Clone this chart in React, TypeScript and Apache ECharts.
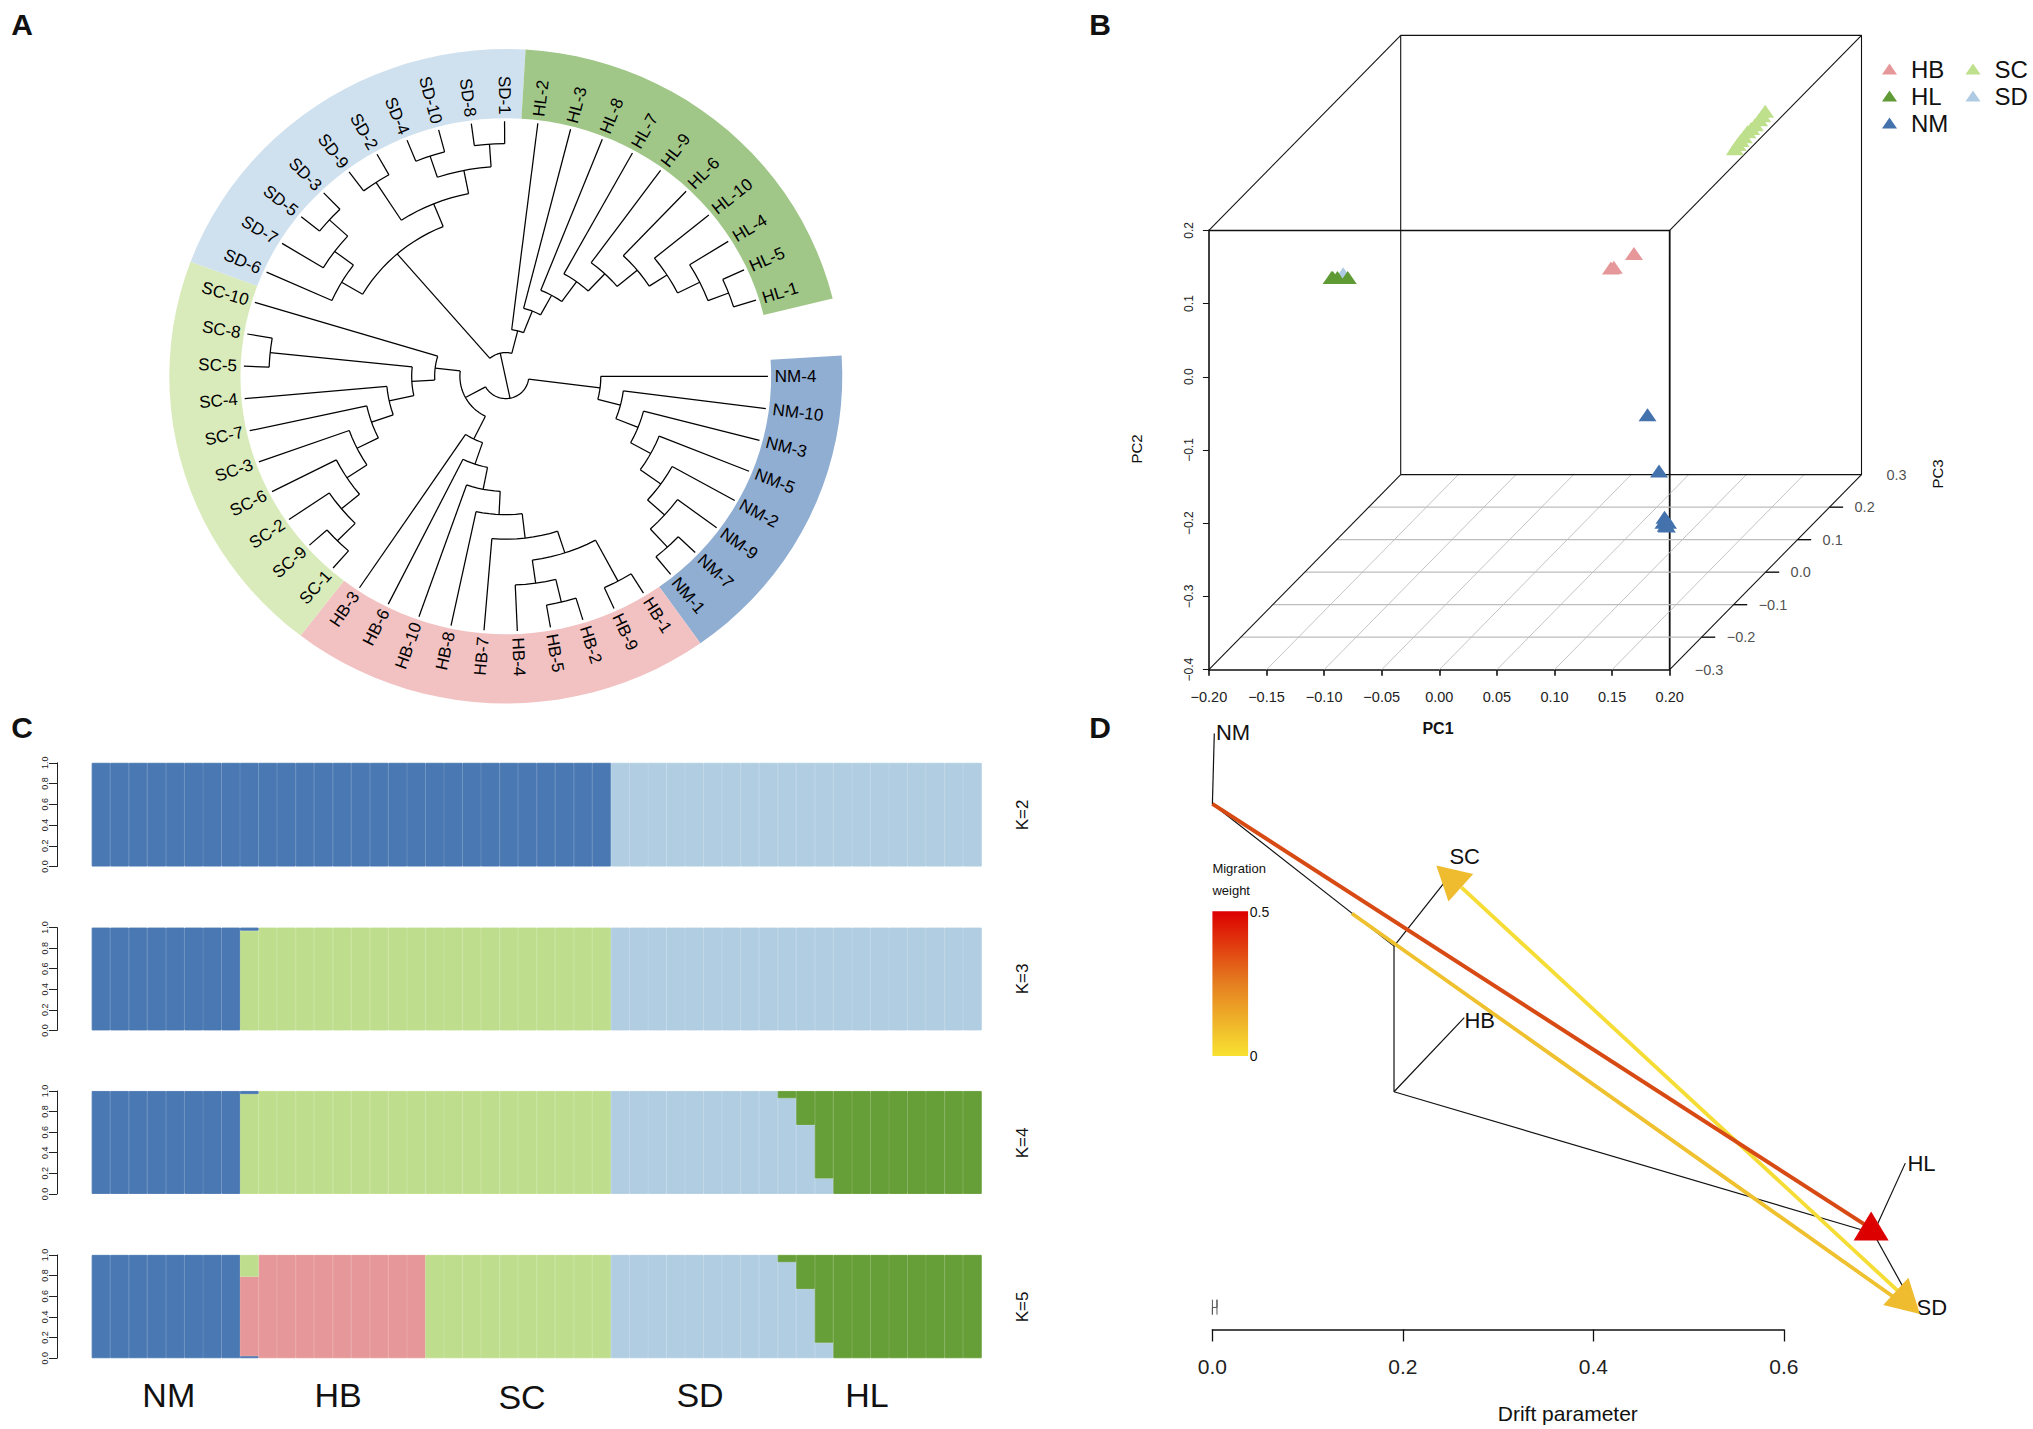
import React, { useEffect, useRef } from "react";
import * as echarts from "echarts";

const FONT = "'Liberation Sans', Arial, sans-serif";

// ---------- Panel A: circular dendrogram ----------
type Clade = string | [number, Clade, Clade];
const ringCounts = [8, 10, 10, 10, 10];
const ringColors = ["#90ADD2", "#F2C1C2", "#DAEBBB", "#CFE0EE", "#A1C788"];
const leafOrder = [
  "NM-4", "NM-10", "NM-3", "NM-5", "NM-2", "NM-9", "NM-7", "NM-1",
  "HB-1", "HB-9", "HB-2", "HB-5", "HB-4", "HB-7", "HB-8", "HB-10", "HB-6", "HB-3",
  "SC-1", "SC-9", "SC-2", "SC-6", "SC-3", "SC-7", "SC-4", "SC-5", "SC-8", "SC-10",
  "SD-6", "SD-7", "SD-5", "SD-3", "SD-9", "SD-2", "SD-4", "SD-10", "SD-8", "SD-1",
  "HL-2", "HL-3", "HL-8", "HL-7", "HL-9", "HL-6", "HL-10", "HL-4", "HL-5", "HL-1",
];
const nmTree: Clade = [207, "NM-4", [258, "NM-10", [310, "NM-3", [360, "NM-5", [415, "NM-2", [465, "NM-9", [520, "NM-7", "NM-1"]]]]]]];
const hbTree: Clade = [157, "HB-3", [208, "HB-6", [258, "HB-10", [310, "HB-8", [365, "HB-7", [416, [468, "HB-4", [520, "HB-5", "HB-2"]], [520, "HB-9", "HB-1"]]]]]]];
const scTree: Clade = [155, "SC-10", [205, [516, "SC-8", "SC-5"], [260, "SC-4", [310, "SC-7", [362, "SC-3", [414, "SC-6", [465, "SC-2", [520, "SC-9", "SC-1"]]]]]]]];
const sdTree: Clade = [362, [415, "SD-6", [466, "SD-7", [520, "SD-5", "SD-3"]]], [417, [518, "SD-9", "SD-2"], [470, [520, "SD-4", "SD-10"], [521, "SD-8", "SD-1"]]]];
const hlTree: Clade = [105, "HL-2", [157, "HL-3", [207, "HL-8", [262, "HL-7", [315, "HL-9", [372, "HL-6", [418, "HL-10", [472, "HL-4", [520, "HL-5", "HL-1"]]]]]]]]];
const northClade: Clade = [53, hlTree, sdTree];
const southClade: Clade = [100, scTree, hbTree];
const rootClade: Clade = [50, nmTree, southClade];

// ---------- Panel B: PCA ----------
const pcaHB = [[0.0935, 0.0598, -0.1], [0.096, 0.061, -0.1], [0.1135, 0.0798, -0.1]];
const pcaHL = [[-0.098, 0.127, -0.28], [-0.094, 0.127, -0.28], [-0.085, 0.127, -0.28], [-0.099, 0.127, -0.28]];
const pcaNM = [[0.153, -0.096, -0.2], [0.163, -0.173, -0.2], [0.1678, -0.236, -0.2], [0.1688, -0.24, -0.2], [0.1668, -0.243, -0.2], [0.1708, -0.243, -0.2], [0.1698, -0.248, -0.2], [0.1688, -0.247, -0.2]];
const pcaSC = [[0.12, 0.093, 0.192], [0.12, 0.095, 0.201], [0.12, 0.0965, 0.21], [0.12, 0.097, 0.22], [0.12, 0.0988, 0.2315], [0.12, 0.098, 0.243], [0.12, 0.0978, 0.255], [0.12, 0.099, 0.268], [0.12, 0.1001, 0.278], [0.12, 0.1023, 0.287]];
const pcaSD = [[-0.089, 0.132, -0.28]];
const pc1Ticks = [-0.15, -0.1, -0.05, 0, 0.05, 0.1, 0.15];
const pc3Ticks = [-0.2, -0.1, 0, 0.1, 0.2];
const pc3Labels = [-0.3, -0.2, -0.1, 0, 0.1, 0.2, 0.3];

// ---------- Panel C: admixture ----------
const k2Blue = [1, 1, 1, 1, 1, 1, 1, 1, 1, 1, 1, 1, 1, 1, 1, 1, 1, 1, 1, 1, 1, 1, 1, 1, 1, 1, 1, 1, 0, 0, 0, 0, 0, 0, 0, 0, 0, 0, 0, 0, 0, 0, 0, 0, 0, 0, 0, 0];
const k2Sky = [0, 0, 0, 0, 0, 0, 0, 0, 0, 0, 0, 0, 0, 0, 0, 0, 0, 0, 0, 0, 0, 0, 0, 0, 0, 0, 0, 0, 1, 1, 1, 1, 1, 1, 1, 1, 1, 1, 1, 1, 1, 1, 1, 1, 1, 1, 1, 1];
const k3Lime = [0, 0, 0, 0, 0, 0, 0, 0, 0.97, 1, 1, 1, 1, 1, 1, 1, 1, 1, 1, 1, 1, 1, 1, 1, 1, 1, 1, 1, 0, 0, 0, 0, 0, 0, 0, 0, 0, 0, 0, 0, 0, 0, 0, 0, 0, 0, 0, 0];
const k3Blue = [1, 1, 1, 1, 1, 1, 1, 1, 0.03, 0, 0, 0, 0, 0, 0, 0, 0, 0, 0, 0, 0, 0, 0, 0, 0, 0, 0, 0, 0, 0, 0, 0, 0, 0, 0, 0, 0, 0, 0, 0, 0, 0, 0, 0, 0, 0, 0, 0];
const k3Sky = [0, 0, 0, 0, 0, 0, 0, 0, 0, 0, 0, 0, 0, 0, 0, 0, 0, 0, 0, 0, 0, 0, 0, 0, 0, 0, 0, 0, 1, 1, 1, 1, 1, 1, 1, 1, 1, 1, 1, 1, 1, 1, 1, 1, 1, 1, 1, 1];
const k4Lime = [0, 0, 0, 0, 0, 0, 0, 0, 0.97, 1, 1, 1, 1, 1, 1, 1, 1, 1, 1, 1, 1, 1, 1, 1, 1, 1, 1, 1, 0, 0, 0, 0, 0, 0, 0, 0, 0, 0, 0, 0, 0, 0, 0, 0, 0, 0, 0, 0];
const k4Blue = [1, 1, 1, 1, 1, 1, 1, 1, 0.03, 0, 0, 0, 0, 0, 0, 0, 0, 0, 0, 0, 0, 0, 0, 0, 0, 0, 0, 0, 0, 0, 0, 0, 0, 0, 0, 0, 0, 0, 0, 0, 0, 0, 0, 0, 0, 0, 0, 0];
const k4Sky = [0, 0, 0, 0, 0, 0, 0, 0, 0, 0, 0, 0, 0, 0, 0, 0, 0, 0, 0, 0, 0, 0, 0, 0, 0, 0, 0, 0, 1, 1, 1, 1, 1, 1, 1, 1, 1, 0.93, 0.67, 0.15, 0, 0, 0, 0, 0, 0, 0, 0];
const k4Green = [0, 0, 0, 0, 0, 0, 0, 0, 0, 0, 0, 0, 0, 0, 0, 0, 0, 0, 0, 0, 0, 0, 0, 0, 0, 0, 0, 0, 0, 0, 0, 0, 0, 0, 0, 0, 0, 0.07, 0.33, 0.85, 1, 1, 1, 1, 1, 1, 1, 1];
const k5Blue = [1, 1, 1, 1, 1, 1, 1, 1, 0.02, 0, 0, 0, 0, 0, 0, 0, 0, 0, 0, 0, 0, 0, 0, 0, 0, 0, 0, 0, 0, 0, 0, 0, 0, 0, 0, 0, 0, 0, 0, 0, 0, 0, 0, 0, 0, 0, 0, 0];
const k5Pink = [0, 0, 0, 0, 0, 0, 0, 0, 0.77, 1, 1, 1, 1, 1, 1, 1, 1, 1, 0, 0, 0, 0, 0, 0, 0, 0, 0, 0, 0, 0, 0, 0, 0, 0, 0, 0, 0, 0, 0, 0, 0, 0, 0, 0, 0, 0, 0, 0];
const k5Lime = [0, 0, 0, 0, 0, 0, 0, 0, 0.21, 0, 0, 0, 0, 0, 0, 0, 0, 0, 1, 1, 1, 1, 1, 1, 1, 1, 1, 1, 0, 0, 0, 0, 0, 0, 0, 0, 0, 0, 0, 0, 0, 0, 0, 0, 0, 0, 0, 0];
const k5Sky = [0, 0, 0, 0, 0, 0, 0, 0, 0, 0, 0, 0, 0, 0, 0, 0, 0, 0, 0, 0, 0, 0, 0, 0, 0, 0, 0, 0, 1, 1, 1, 1, 1, 1, 1, 1, 1, 0.93, 0.67, 0.15, 0, 0, 0, 0, 0, 0, 0, 0];
const k5Green = [0, 0, 0, 0, 0, 0, 0, 0, 0, 0, 0, 0, 0, 0, 0, 0, 0, 0, 0, 0, 0, 0, 0, 0, 0, 0, 0, 0, 0, 0, 0, 0, 0, 0, 0, 0, 0, 0.07, 0.33, 0.85, 1, 1, 1, 1, 1, 1, 1, 1];
const popLabels = ["NM", "HB", "SC", "SD", "HL"];
const kLabels = ["K=2", "K=3", "K=4", "K=5"];

// ---------- Panel D: TreeMix ----------
const driftNodes: Record<string, number[]> = {
  NM: [0.002, 1.0], n0: [0, 0.882], n1: [0.1907, 0.6434], SC: [0.2433, 0.7496], n2: [0.1907, 0.399],
  HB: [0.2645, 0.5235], n3: [0.694, 0.1616], HL: [0.7276, 0.2792], SD: [0.74, 0.0288],
};
const driftEdges = [["n0", "NM"], ["n0", "n1"], ["n1", "SC"], ["n1", "n2"], ["n2", "HB"], ["n2", "n3"], ["n3", "HL"], ["n3", "SD"]];
const migrationStrong = [[0, 0.882], [0.688, 0.173]];
const migrationToSD = [[0.1465, 0.698], [0.7246, 0.044]];
const migrationToSC = [[0.7246, 0.0577], [0.2615, 0.742]];
const scaleBar = [[0, 0.05], [0, 0.025], [0, 0.037], [0.0048, 0.037], [0.0048, 0.05], [0.0048, 0.025]];
const arrowRed = [0.6917, 0.1738];
const arrowSC = [0.248, 0.76];
const arrowSD = [0.7303, 0.0451];

const C = { blue: "#4A78B2", sky: "#B1CDE2", lime: "#BFDE8D", green: "#669E38", pink: "#E59799" };

const STEP = 7.29;
const LEAF_R = 571;
const leafAngle: Record<string, number> = {};
leafOrder.forEach((n, k) => { leafAngle[n] = -STEP * k; });

type Poly = [number, number][]; // [radius, angle]
function arcPts(r: number, a1: number, a2: number): Poly {
  const lo = Math.min(a1, a2), hi = Math.max(a1, a2);
  const n = Math.max(1, Math.ceil((hi - lo) / 3));
  const out: Poly = [];
  for (let i = 0; i <= n; i++) out.push([r, lo + ((hi - lo) * i) / n]);
  return out;
}
const polys: Poly[] = [];
function layout(c: Clade): { a: number; r: number } {
  if (typeof c === "string") return { a: leafAngle[c], r: LEAF_R };
  const [r, l, m] = c;
  const A = layout(l), B = layout(m);
  polys.push(arcPts(r, A.a, B.a));
  polys.push([[r, A.a], [A.r, A.a]]);
  polys.push([[r, B.a], [B.r, B.a]]);
  return { a: (A.a + B.a) / 2, r };
}
const northPos = layout(northClade);
const rootPos = layout(rootClade);
polys.push([[rootPos.r, rootPos.a], [northPos.r, northPos.a]]);

function renderDendro(_: any, api: any) {
  const P = (r: number, a: number) => {
    const t = (a * Math.PI) / 180;
    return api.coord([r * Math.cos(t), r * Math.sin(t)]);
  };
  const children: any[] = [];
  let k0 = 0;
  ringCounts.forEach((n, i) => {
    const a1 = -STEP * (k0 - 0.5), a2 = -STEP * (k0 + n - 0.5);
    const outer = arcPts(733, a1, a2);
    const inner = arcPts(578, a1, a2).reverse();
    children.push({
      type: "polygon",
      shape: { points: outer.concat(inner).map(([r, a]) => P(r, a)) },
      style: { fill: ringColors[i], stroke: null },
    });
    k0 += n;
  });
  polys.forEach((p) => {
    children.push({
      type: "polyline",
      shape: { points: p.map(([r, a]) => P(r, a)) },
      style: { stroke: "#000", lineWidth: 1.25, fill: null },
    });
  });
  leafOrder.forEach((name) => {
    const a = leafAngle[name];
    const p0 = P(586, a), p1 = P(686, a);
    const ang = Math.atan2(-(p1[1] - p0[1]), p1[0] - p0[0]);
    const right = Math.cos((a * Math.PI) / 180) >= 0;
    children.push({
      type: "text",
      x: p0[0],
      y: p0[1],
      rotation: right ? ang : ang + Math.PI,
      style: {
        text: name, fill: "#000", fontSize: 17, fontFamily: FONT,
        textAlign: right ? "left" : "right", textVerticalAlign: "middle",
        align: right ? "left" : "right", verticalAlign: "middle",
      },
    });
  });
  return { type: "group", children };
}

const minus = (s: string) => s.replace("-", "\u2212");
const KX = 0.2775, KY = 0.444;
const project = (p: number[]) => [p[0] + (p[2] + 0.3) * KX, p[1] + (p[2] + 0.3) * KY];

function txt(text: string, x: number, y: number, size: number, extra: any = {}) {
  const { rotation, align = "center", weight = "normal", fill = "#111" } = extra;
  return {
    type: "text", x, y, rotation: rotation || 0, silent: true,
    style: {
      text, fill, font: `${weight} ${size}px ${FONT}`,
      textAlign: align, textVerticalAlign: "middle", align, verticalAlign: "middle",
    },
  };
}

export default function App() {
  const ref = useRef<HTMLDivElement>(null);
  useEffect(() => {
    document.body.style.margin = "0";
    const chart = echarts.init(ref.current!, undefined, { renderer: "svg" });
    const grids: any[] = [], xAxes: any[] = [], yAxes: any[] = [], series: any[] = [];
    const addGrid = (g: any, x: any, y: any) => {
      grids.push({ ...g, containLabel: false });
      xAxes.push({ gridIndex: grids.length - 1, ...x });
      yAxes.push({ gridIndex: grids.length - 1, ...y });
      return grids.length - 1;
    };
    const off = { show: false };

    // A
    const gA = addGrid(
      { left: 169.3, top: 49, width: 673, height: 654.5 },
      { type: "value", min: -733, max: 733, ...off },
      { type: "value", min: -733, max: 733, ...off }
    );
    series.push({
      type: "custom", xAxisIndex: gA, yAxisIndex: gA, data: [[0, 0]], encode: { x: 0, y: 1 },
      renderItem: renderDendro, clip: false, silent: true,
    });

    // B front face with real PC1/PC2 axes
    const axLine = { show: true, onZero: false, lineStyle: { color: "#111", width: 1.6 } };
    const gB1 = addGrid(
      { left: 1208.9, top: 230.3, width: 460.8, height: 439.4 },
      {
        type: "value", min: -0.2, max: 0.2, interval: 0.05, splitLine: off,
        axisLine: axLine, axisTick: { show: true, length: 6, inside: false, lineStyle: { color: "#111", width: 1.6 } },
        axisLabel: { show: true, margin: 20, fontSize: 14.5, fontFamily: FONT, color: "#222", hideOverlap: false, showMinLabel: true, showMaxLabel: true,
          formatter: (v: number) => minus(v.toFixed(2)) },
      },
      {
        type: "value", min: -0.4, max: 0.2, interval: 0.1, splitLine: off,
        axisLine: axLine, axisTick: { show: true, length: 6, lineStyle: { color: "#111", width: 1 } },
        axisLabel: { show: true, rotate: 90, margin: 14, fontSize: 12, fontFamily: FONT, color: "#222", showMinLabel: true, showMaxLabel: true,
          formatter: (v: number) => minus(v.toFixed(1)) },
      }
    );
    series.push({
      type: "line", xAxisIndex: gB1, yAxisIndex: gB1, showSymbol: false, silent: true,
      data: [[-0.2, 0.2], [0.2, 0.2], [0.2, -0.4]],
      lineStyle: { color: "#111", width: 1.8 },
    });
    // B whole projected box
    const gB2 = addGrid(
      { left: 1208.9, top: 35.4, width: 652.6, height: 634.3 },
      { type: "value", min: -0.2, max: 0.2 + 0.6 * KX, ...off },
      { type: "value", min: -0.4, max: 0.2 + 0.6 * KY, ...off }
    );
    const seg = (pts: number[][], color: string, width: number) =>
      series.push({
        type: "line", xAxisIndex: gB2, yAxisIndex: gB2, showSymbol: false, silent: true, clip: false,
        data: pts.map(project), lineStyle: { color, width },
      });
    pc3Ticks.forEach((t) => {
      seg([[-0.2, -0.4, t], [0.2, -0.4, t]], "#BDBDBD", 1.2);
      seg([[0.2, -0.4, t], [0.2118, -0.4, t]], "#111", 1.4);
    });
    pc1Ticks.forEach((t) => seg([[t, -0.4, -0.3], [t, -0.4, 0.3]], "#BDBDBD", 0.9));
    seg([[-0.2, -0.4, 0.3], [0.2, -0.4, 0.3], [0.2, 0.2, 0.3], [-0.2, 0.2, 0.3], [-0.2, -0.4, 0.3]], "#111", 1.1);
    seg([[-0.2, -0.4, -0.3], [-0.2, -0.4, 0.3]], "#111", 1.1);
    seg([[0.2, -0.4, -0.3], [0.2, -0.4, 0.3]], "#111", 1.1);
    seg([[-0.2, 0.2, -0.3], [-0.2, 0.2, 0.3]], "#111", 1.1);
    seg([[0.2, 0.2, -0.3], [0.2, 0.2, 0.3]], "#111", 1.1);
    series.push({
      type: "scatter", xAxisIndex: gB2, yAxisIndex: gB2, symbolSize: 0, silent: true, clip: false,
      data: pc3Labels.map((t) => ({ value: project([0.2, -0.4, t]), name: minus(t.toFixed(1)) })),
      label: { show: true, position: "right", distance: 25, fontSize: 14.5, fontFamily: FONT, color: "#222", formatter: "{b}" },
    });
    const pcaSeries: [string, number[][], string][] = [
      ["SD", pcaSD, "#AFCBE3"], ["HL", pcaHL, "#5F9A35"], ["HB", pcaHB, "#E59799"],
      ["NM", pcaNM, "#4472AD"], ["SC", pcaSC, "#BEDF8B"],
    ];
    pcaSeries.forEach(([name, pts, color]) =>
      series.push({
        type: "scatter", name, xAxisIndex: gB2, yAxisIndex: gB2, symbol: "triangle", symbolSize: [18, 13], clip: false, z: 6,
        data: pts.map(project), itemStyle: { color, opacity: 1 },
      })
    );

    // C
    const rows: [number, number, [string, number[]][]][] = [
      [762.8, 103.7, [[C.blue, k2Blue], [C.sky, k2Sky]]],
      [927.6, 102.8, [[C.lime, k3Lime], [C.blue, k3Blue], [C.sky, k3Sky]]],
      [1091, 102.9, [[C.lime, k4Lime], [C.blue, k4Blue], [C.sky, k4Sky], [C.green, k4Green]]],
      [1254.9, 103.3, [[C.blue, k5Blue], [C.pink, k5Pink], [C.lime, k5Lime], [C.sky, k5Sky], [C.green, k5Green]]],
    ];
    const cats = k2Blue.map((_, i) => String(i + 1));
    rows.forEach(([top, height, stack], ri) => {
      const g = addGrid(
        { left: 91.7, top, width: 890, height },
        { type: "category", data: cats, ...off },
        {
          type: "value", min: 0, max: 1, interval: 0.2, offset: 34.7, splitLine: off,
          axisLine: { show: true, onZero: false, lineStyle: { color: "#222", width: 1 } },
          axisTick: { show: true, length: 8, lineStyle: { color: "#222", width: 1 } },
          axisLabel: { show: true, rotate: 90, margin: 8, fontSize: 9, fontFamily: FONT, color: "#222", formatter: (v: number) => v.toFixed(1) },
        }
      );
      stack.forEach(([color, values]) =>
        series.push({
          type: "bar", xAxisIndex: g, yAxisIndex: g, stack: "k" + ri, barCategoryGap: 0, barWidth: "100%", silent: true,
          data: values.map((v) => (v === 0 ? null : v)),
          itemStyle: { color, borderColor: color, borderWidth: 0.9 },
        })
      );
    });

    // D: visible drift axis
    const gDaxis = addGrid(
      { left: 1212.4, top: 733.6, width: 571.4, height: 595.9 },
      {
        type: "value", min: 0, max: 0.6, interval: 0.2, splitLine: off, position: "bottom",
        axisLine: { show: true, onZero: false, lineStyle: { color: "#111", width: 1.5 } },
        axisTick: { show: true, length: 12, lineStyle: { color: "#111", width: 1.3 } },
        axisLabel: { show: true, margin: 26, fontSize: 21, fontFamily: FONT, color: "#222", formatter: (v: number) => v.toFixed(1) },
      },
      { type: "value", min: 0, max: 1, ...off }
    );
    // D: same scale, extended so the tips past 0.6 stay on the plot
    const gD = addGrid(
      { left: 1212.4, top: 733.6, width: 761.87, height: 595.9 },
      { type: "value", min: 0, max: 0.8, ...off },
      { type: "value", min: 0, max: 1, ...off }
    );
    const dLine = (data: number[][], color: string, width: number) =>
      series.push({
        type: "line", xAxisIndex: gD, yAxisIndex: gD, showSymbol: false, silent: true, clip: false,
        data, lineStyle: { color, width },
      });
    driftEdges.forEach(([a, b]) => dLine([driftNodes[a], driftNodes[b]], "#111", 1.2));
    dLine(migrationToSD, "#EFC12F", 3.8);
    dLine(migrationToSC, "#F6DD35", 3.8);
    dLine(migrationStrong, "#D84A14", 4);
    dLine(scaleBar, "#555", 1);
    const arrow = (p: number[], color: string, size: number[], rot: number) =>
      series.push({
        type: "scatter", xAxisIndex: gD, yAxisIndex: gD, symbol: "triangle", symbolSize: size, symbolRotate: rot,
        silent: true, clip: false, z: 10, data: [p], itemStyle: { color, opacity: 1 },
      });
    arrow(arrowSC, "#EFBC2F", [37, 33], 48);
    arrow(arrowSD, "#EFBC2F", [37, 33], -133);
    arrow(arrowRed, "#DD0000", [35, 29], 0);

    const graphic: any[] = [
      txt("A", 22, 24, 30, { weight: "bold" }),
      txt("B", 1100, 24, 30, { weight: "bold" }),
      txt("C", 22, 727, 30, { weight: "bold" }),
      txt("D", 1100, 727, 30, { weight: "bold" }),
      txt("PC1", 1438, 728, 16, { weight: "bold" }),
      txt("PC2", 1136, 449, 15, { rotation: Math.PI / 2 }),
      txt("PC3", 1937.6, 474, 15, { rotation: Math.PI / 2 }),
      txt(kLabels[0], 1022.6, 815, 17, { rotation: Math.PI / 2 }),
      txt(kLabels[1], 1022.6, 979, 17, { rotation: Math.PI / 2 }),
      txt(kLabels[2], 1022.6, 1143, 17, { rotation: Math.PI / 2 }),
      txt(kLabels[3], 1022.6, 1307, 17, { rotation: Math.PI / 2 }),
      txt(popLabels[0], 168.8, 1395, 34),
      txt(popLabels[1], 338, 1395, 34),
      txt(popLabels[2], 522, 1397, 34),
      txt(popLabels[3], 700, 1395, 34),
      txt(popLabels[4], 867, 1395, 34),
      txt("NM", 1233, 732, 22),
      txt("SC", 1464.7, 856, 22),
      txt("HB", 1479.7, 1020, 22),
      txt("HL", 1921.5, 1163.5, 22),
      txt("SD", 1931.8, 1307, 22),
      txt("Drift parameter", 1567.8, 1413, 21),
      txt("Migration", 1212.4, 868, 13, { align: "left" }),
      txt("weight", 1212.4, 890, 13, { align: "left" }),
      txt("0.5", 1249.8, 912, 14, { align: "left" }),
      txt("0", 1249.8, 1056, 14, { align: "left" }),
      {
        type: "rect", silent: true,
        shape: { x: 1212.4, y: 911.3, width: 35.7, height: 144.7 },
        style: {
          fill: new echarts.graphic.LinearGradient(0, 0, 0, 1, [
            { offset: 0, color: "#DD0000" },
            { offset: 0.5, color: "#E57F20" },
            { offset: 1, color: "#F8E231" },
          ]),
        },
      },
    ];

    const legendBase = {
      orient: "vertical", icon: "triangle", itemWidth: 15, itemHeight: 11, itemGap: 3, selectedMode: false,
      textStyle: { fontSize: 24, fontFamily: FONT, color: "#111", padding: [0, 0, 0, 9] },
    };

    chart.setOption({
      animation: false,
      backgroundColor: "#fff",
      textStyle: { fontFamily: FONT },
      grid: grids,
      xAxis: xAxes,
      yAxis: yAxes,
      legend: [
        { ...legendBase, left: 1877, top: 52, data: ["HB", "HL", "NM"] },
        { ...legendBase, left: 1960.5, top: 52, data: ["SC", "SD"] },
      ],
      series,
      graphic,
    });
    return () => chart.dispose();
  }, []);
  return <div ref={ref} style={{ position: "absolute", left: 0, top: 0, width: 2033, height: 1429 }} />;
}
